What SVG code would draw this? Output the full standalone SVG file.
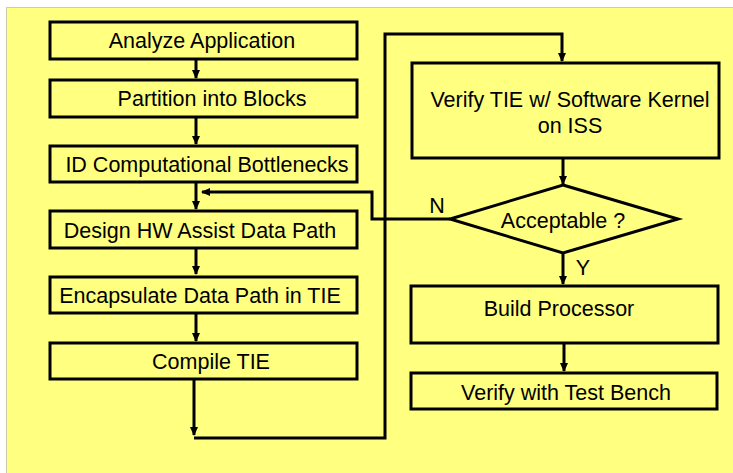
<svg xmlns="http://www.w3.org/2000/svg" width="733" height="473" viewBox="0 0 733 473">
<defs>
<marker id="ah" markerWidth="9" markerHeight="9" refX="8" refY="4.5" orient="auto" markerUnits="userSpaceOnUse">
<path d="M0,0.5 L9,4.5 L0,8.5 Z" fill="#000"/>
</marker>
<style>
.box{fill:#FFFF80;stroke:#000;stroke-width:3}
.t{font-family:"Liberation Sans",Arial,sans-serif;font-size:21.5px;fill:#000;text-anchor:middle}
.c{fill:none;stroke:#000;stroke-width:3}
</style>
</defs>
<rect x="0" y="0" width="733" height="473" fill="#fff"/>
<rect x="6.5" y="7.5" width="740" height="480" fill="#FFFF80" stroke="#999" stroke-width="1" stroke-dasharray="1,1"/>
<g id="connectors">
<path class="c" d="M196,59 V78" marker-end="url(#ah)"/>
<path class="c" d="M196,117 V144" marker-end="url(#ah)"/>
<path class="c" d="M196,183 V209" marker-end="url(#ah)"/>
<path class="c" d="M196,248 V274" marker-end="url(#ah)"/>
<path class="c" d="M196,313 V341" marker-end="url(#ah)"/>
<path class="c" d="M194,379 V435" marker-end="url(#ah)"/>
<path class="c" d="M194,438 H385 V34 H562 V61" marker-end="url(#ah)"/>
<path class="c" d="M563,158 V184" marker-end="url(#ah)"/>
<path class="c" d="M450,219 H372 V192 H202" marker-end="url(#ah)"/>
<path class="c" d="M563,253 V284" marker-end="url(#ah)"/>
<path class="c" d="M564,343 V371" marker-end="url(#ah)"/>
</g>
<g id="analyze"><rect class="box" x="50" y="22" width="307" height="37"/><text class="t" x="202" y="48">Analyze Application</text></g>
<g id="partition"><rect class="box" x="50" y="80" width="307" height="37"/><text class="t" x="212" y="106">Partition into Blocks</text></g>
<g id="bottlenecks"><rect class="box" x="50" y="146" width="307" height="36"/><text class="t" x="207" y="172">ID Computational Bottlenecks</text></g>
<g id="design"><rect class="box" x="50" y="211" width="307" height="37"/><text class="t" x="200" y="238">Design HW Assist Data Path</text></g>
<g id="encapsulate"><rect class="box" x="50" y="277" width="307" height="36"/><text class="t" x="200" y="303">Encapsulate Data Path in TIE</text></g>
<g id="compile"><rect class="box" x="50" y="343" width="307" height="36"/><text class="t" x="211" y="369">Compile TIE</text></g>
<g id="verify-tie"><rect class="box" x="412" y="63" width="307" height="95"/><text class="t" x="570" y="107">Verify TIE w/ Software Kernel</text><text class="t" x="570" y="133">on ISS</text></g>
<g id="acceptable"><polygon class="box" points="563,185 678,219 563,253 450,219"/><text class="t" x="563" y="228">Acceptable ?</text></g>
<g id="build"><rect class="box" x="411" y="286" width="307" height="57"/><text class="t" x="559" y="316">Build Processor</text></g>
<g id="testbench"><rect class="box" x="411" y="373" width="306" height="36"/><text class="t" x="566" y="400">Verify with Test Bench</text></g>
<g id="labels">
<text class="t" x="437" y="213">N</text>
<text class="t" x="583" y="275">Y</text>
</g>
</svg>
